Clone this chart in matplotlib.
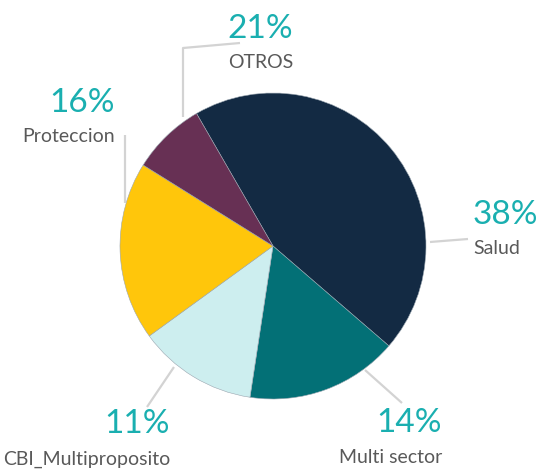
import matplotlib
matplotlib.use("Agg")
import matplotlib.pyplot as plt

# Slice sizes as drawn, clockwise from the top
categories = ["Salud", "Multi sector", "CBI_Multiproposito", "Proteccion", "OTROS"]
slice_values = [44.7, 16.1, 12.6, 18.9, 7.8]
# Percentages printed in the labels
label_pcts = ["38%", "14%", "11%", "16%", "21%"]
colors = ["#132a43", "#037076", "#cdeeef", "#ffc60b", "#673054"]

W, H = 555, 471
PCT_COLOR = "#1aafb0"
TXT_COLOR = "#595959"
LINE_COLOR = "#d3d3d3"

fig = plt.figure(figsize=(W / 100, H / 100), dpi=100)
ax = fig.add_axes([0, 0, 1, 1])


def fy(y):
    # pixel row -> data y
    return H - y


ax.pie(slice_values, colors=colors, startangle=120, counterclock=False,
       center=(273, fy(246)), radius=153,
       wedgeprops=dict(linewidth=0.4, edgecolor="#9aa6b0"))

# label layout: (x, pct baseline, name baseline, align)
layout = {
    "Salud": (473, 224, 254, "left"),
    "Multi sector": (442, 432, 463, "right"),
    "CBI_Multiproposito": (170, 433, 465, "right"),
    "Proteccion": (115, 112, 142, "right"),
    "OTROS": (293, 38, 68, "right"),
}
leaders = {
    "Salud": [(430, 242), (468, 239)],
    "Multi sector": [(365, 370), (402, 403)],
    "CBI_Multiproposito": [(174, 367), (147, 407)],
    "Proteccion": [(125, 203), (125, 135)],
    "OTROS": [(183, 117), (183, 48), (240, 43)],
}

for cat, pct in zip(categories, label_pcts):
    x, yp, yn, ha = layout[cat]
    ax.text(x, fy(yp), pct, ha=ha, va="baseline", fontsize=24,
            color=PCT_COLOR, family=["Lato", "DejaVu Sans"])
    ax.text(x, fy(yn), cat, ha=ha, va="baseline", fontsize=14,
            color=TXT_COLOR, family=["Lato", "DejaVu Sans"])
    pts = leaders[cat]
    ax.plot([p[0] for p in pts], [fy(p[1]) for p in pts],
            color=LINE_COLOR, linewidth=1.6, solid_capstyle="butt")

ax.set_xlim(0, W)
ax.set_ylim(0, H)
ax.set_aspect("equal")
ax.axis("off")

fig.savefig("out.png", dpi=100, facecolor="white")
